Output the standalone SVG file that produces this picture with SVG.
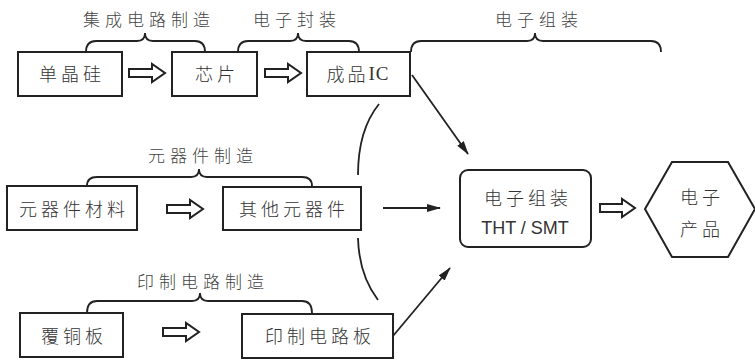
<svg xmlns="http://www.w3.org/2000/svg" width="755" height="360" viewBox="0 0 755 360">
<style>
.box{fill:#fff;stroke:#222;stroke-width:2}
.t{font-family:"Noto Sans CJK SC","Noto Sans",sans-serif;font-size:18px;font-weight:300;fill:#333;text-anchor:middle;dominant-baseline:central;letter-spacing:4px}
.lab{font-family:"Noto Sans CJK SC","Noto Sans",sans-serif;font-size:17px;font-weight:300;fill:#444;text-anchor:middle;dominant-baseline:central;letter-spacing:5px}
.en{font-family:"Liberation Sans","DejaVu Sans",sans-serif;font-size:18px;fill:#333;text-anchor:middle;dominant-baseline:central}
.br{fill:none;stroke:#222;stroke-width:1.8}
.ha{fill:#fff;stroke:#222;stroke-width:2;stroke-linejoin:miter}
.ln{fill:none;stroke:#222;stroke-width:1.8}
</style>
<defs>
<marker id="ah" markerWidth="14" markerHeight="10" refX="13" refY="5" orient="auto" markerUnits="userSpaceOnUse">
<path d="M0,1 L14,5 L0,9 Z" fill="#222"/>
</marker>
</defs>
<rect width="755" height="360" fill="#fff"/>

<g id="braces">
<path class="br" d="M86,52 Q86,41 96,41 L137,41 Q145,41 145,33 Q145,41 153,41 L195,41 Q205,41 205,52"/>
<path class="br" d="M238,52 Q238,41 248,41 L290,41 Q298,41 298,33 Q298,41 306,41 L349,41 Q359,41 359,52"/>
<path class="br" d="M411,52 Q411,41 421,41 L527,41 Q535,41 535,33 Q535,41 543,41 L651,41 Q661,41 661,52"/>
<path class="br" d="M87,186 Q87,177 97,177 L191,177 Q199,177 199,169 Q199,177 207,177 L302,177 Q312,177 312,186"/>
<path class="br" d="M87,313 Q87,301 97,301 L192,301 Q200,301 200,293 Q200,301 208,301 L302,301 Q312,301 312,313"/>
<text class="lab" x="149" y="18">集成电路制造</text>
<text class="lab" x="297" y="18">电子封装</text>
<text class="lab" x="539" y="18">电子组装</text>
<text class="lab" x="203" y="154">元器件制造</text>
<text class="lab" x="203" y="280">印制电路制造</text>
</g>

<g id="n1"><rect class="box" x="18" y="52" width="104" height="44"/><text class="t" x="72" y="73">单晶硅</text></g>
<g id="n2"><rect class="box" x="172" y="52" width="85" height="44"/><text class="t" x="217" y="73">芯片</text></g>
<g id="n3"><rect class="box" x="307" y="52" width="103" height="44"/><text class="t" x="358" y="73" style="letter-spacing:3px">成品<tspan font-family="Liberation Serif, serif" font-size="19" font-weight="400" letter-spacing="1">IC</tspan></text></g>
<g id="n4"><rect class="box" x="7" y="186" width="130" height="44"/><text class="t" x="74" y="208">元器件材料</text></g>
<g id="n5"><rect class="box" x="223" y="187" width="138" height="43"/><text class="t" x="294" y="208">其他元器件</text></g>
<g id="n6"><rect class="box" x="20" y="313" width="103" height="44"/><text class="t" x="74" y="335">覆铜板</text></g>
<g id="n7"><rect class="box" x="242" y="314" width="151" height="44"/><text class="t" x="320" y="335">印制电路板</text></g>
<g id="n8"><rect class="box" x="460" y="170" width="131" height="77" rx="8"/><text class="t" x="528" y="197">电子组装</text><text class="en" x="525" y="228">THT / SMT</text></g>
<g id="n9"><polygon class="box" points="645,209 672,162 728,162 755,209 728,257 672,257"/><text class="t" x="702" y="196">电子</text><text class="t" x="702" y="228">产品</text></g>

<g id="connectors">
<path class="ha" d="M129,69 L152,69 L152,64 L165,73 L152,82 L152,77 L129,77 Z"/>
<path class="ha" d="M265,69 L288,69 L288,64 L301,73 L288,82 L288,77 L265,77 Z"/>
<path class="ha" d="M167,205 L190,205 L190,200 L203,209 L190,218 L190,213 L167,213 Z"/>
<path class="ha" d="M163,328 L186,328 L186,323 L199,332 L186,341 L186,336 L163,336 Z"/>
<path class="ha" d="M600,204 L622,204 L622,199 L635,208 L622,217 L622,212 L600,212 Z"/>
<line class="ln" x1="412" y1="75" x2="468" y2="154" marker-end="url(#ah)"/>
<line class="ln" x1="383" y1="208" x2="440" y2="208" marker-end="url(#ah)"/>
<line class="ln" x1="393" y1="336" x2="450" y2="268" marker-end="url(#ah)"/>
<path class="ln" d="M379,104 Q358,130 358,175"/>
<path class="ln" d="M358,238 Q359,275 378,300"/>
</g>
</svg>
